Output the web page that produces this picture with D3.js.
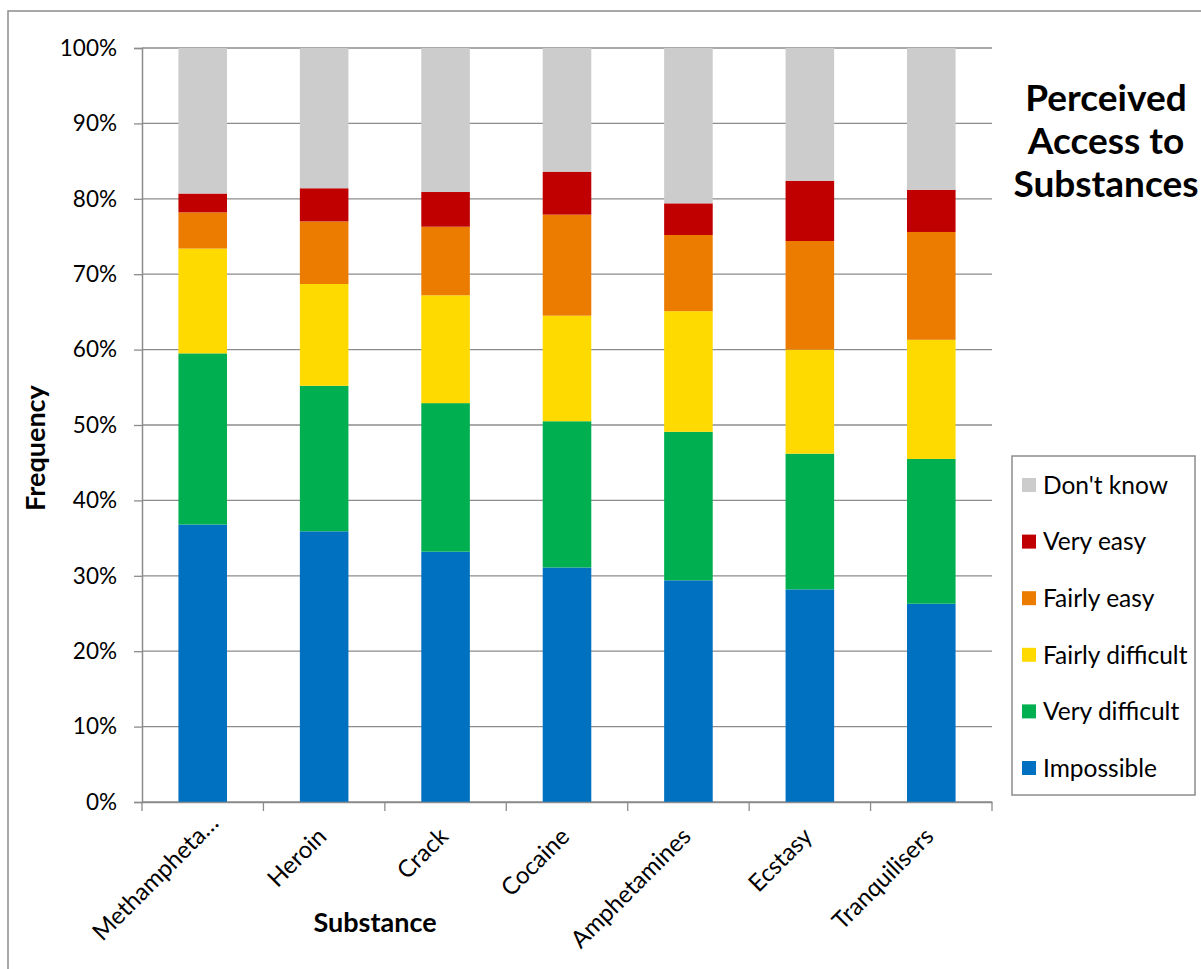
<!DOCTYPE html>
<html>
<head>
<meta charset="utf-8">
<script src="https://cdn.jsdelivr.net/npm/d3@7"></script>
<style>
  html, body { margin: 0; padding: 0; background: #fff; }
  svg { display: block; }
  text { font-family: Lato, "Open Sans", sans-serif; fill: #000; }
</style>
</head>
<body>
<svg id="chart" width="1201" height="969"></svg>
<script>
// ---- Data ----
const categories = ["Methampheta…", "Heroin", "Crack", "Cocaine", "Amphetamines", "Ecstasy", "Tranquilisers"];
const seriesNames = ["Impossible", "Very difficult", "Fairly difficult", "Fairly easy", "Very easy", "Don't know"];
const impossible      = [36.8, 35.9, 33.2, 31.1, 29.4, 28.2, 26.3];
const veryDifficult   = [22.7, 19.3, 19.7, 19.4, 19.7, 18.0, 19.2];
const fairlyDifficult = [13.9, 13.5, 14.3, 14.0, 16.0, 13.8, 15.8];
const fairlyEasy      = [ 4.8,  8.3,  9.1, 13.4, 10.1, 14.4, 14.3];
const veryEasy        = [ 2.5,  4.4,  4.6,  5.7,  4.2,  8.0,  5.6];
const dontKnow        = [19.3, 18.6, 19.1, 16.4, 20.6, 17.6, 18.8];
const yTicks = [0, 10, 20, 30, 40, 50, 60, 70, 80, 90, 100];
const colors = ["#0070C0", "#00B050", "#FFDA00", "#EC7C00", "#C00000", "#CCCCCC"];
const titleLines = ["Perceived", "Access to", "Substances"];

const seriesValues = [impossible, veryDifficult, fairlyDifficult, fairlyEasy, veryEasy, dontKnow];
const rows = categories.map((c, i) => {
  const r = { cat: c };
  seriesNames.forEach((s, k) => r[s] = seriesValues[k][i]);
  return r;
});
const stacked = d3.stack().keys(seriesNames)(rows);

// ---- Layout ----
const svg = d3.select("#chart");
const plot = { left: 142, right: 992, top: 48, bottom: 802 };
const x = d3.scaleBand().domain(categories).range([plot.left, plot.right]).paddingInner(0).paddingOuter(0);
const y = d3.scaleLinear().domain([0, 100]).range([plot.bottom, plot.top]);
const color = d3.scaleOrdinal().domain(seriesNames).range(colors);
const barW = x.bandwidth() * 0.4;
const gridColor = "#8c8c8c";

// outer chart border
svg.append("rect").attr("x", 8).attr("y", 11).attr("width", 1250).attr("height", 1000)
  .attr("fill", "none").attr("stroke", gridColor).attr("stroke-width", 1.5);

// gridlines
svg.append("g").selectAll("line").data(yTicks).join("line")
  .attr("x1", plot.left).attr("x2", plot.right)
  .attr("y1", d => y(d)).attr("y2", d => y(d))
  .attr("stroke", gridColor).attr("stroke-width", 1.3);

// bars
svg.append("g").selectAll("g").data(stacked).join("g")
  .attr("fill", d => color(d.key))
  .selectAll("rect").data(d => d).join("rect")
  .attr("x", d => x(d.data.cat) + (x.bandwidth() - barW) / 2)
  .attr("width", barW)
  .attr("y", d => y(d[1]))
  .attr("height", d => y(d[0]) - y(d[1]));

// y axis
const yAxis = d3.axisLeft(y).tickValues(yTicks).tickFormat(d => d + "%").tickSize(8).tickPadding(17);
const gy = svg.append("g").attr("transform", `translate(${plot.left},0)`).call(yAxis);
gy.select(".domain").attr("stroke", gridColor).attr("stroke-width", 1.5);
gy.selectAll(".tick line").attr("stroke", gridColor).attr("stroke-width", 1.3);
gy.selectAll(".tick text").attr("font-size", 22.5).attr("font-family", "Lato, sans-serif").attr("fill", "#000");

// x axis
const xAxis = d3.axisBottom(x).tickSize(0).tickFormat("");
const gx = svg.append("g").attr("transform", `translate(0,${plot.bottom})`).call(xAxis);
gx.select(".domain").attr("stroke", gridColor).attr("stroke-width", 1.5);
// boundary ticks
const boundaries = categories.map(c => x(c)).concat([plot.right]);
gx.append("g").selectAll("line").data(boundaries).join("line")
  .attr("x1", d => d).attr("x2", d => d).attr("y1", 0).attr("y2", 9)
  .attr("stroke", gridColor).attr("stroke-width", 1.3);
// labels (truncated labels keep the full label box, so their ellipsis sits further out)
gx.append("g").selectAll("text").data(categories).join("text")
  .attr("transform", d => `translate(${x(d) + x.bandwidth() / 2 - 2},${30}) rotate(-45)`)
  .attr("text-anchor", "end").attr("dy", "0.35em")
  .attr("dx", d => d.endsWith("…") ? 19 : 0)
  .attr("font-size", 24)
  .text(d => d);

// axis titles
svg.append("text").attr("x", 375).attr("y", 932).attr("text-anchor", "middle")
  .attr("font-size", 27).attr("font-weight", "bold").text("Substance");
svg.append("text").attr("transform", "translate(45,448) rotate(-90)").attr("text-anchor", "middle")
  .attr("font-size", 27).attr("font-weight", "bold").text("Frequency");

// chart title
svg.append("text").attr("text-anchor", "middle").attr("font-size", 37).attr("font-weight", "bold")
  .selectAll("tspan").data(titleLines).join("tspan")
  .attr("x", 1106).attr("y", (d, i) => 111 + i * 43).text(d => d);

// legend
const lg = svg.append("g");
lg.append("rect").attr("x", 1012).attr("y", 456).attr("width", 183).attr("height", 339)
  .attr("fill", "#fff").attr("stroke", gridColor).attr("stroke-width", 1.5);
const legendOrder = seriesNames.slice().reverse();
const li = lg.selectAll("g.item").data(legendOrder).join("g").attr("class", "item")
  .attr("transform", (d, i) => `translate(1022,${485 + i * 56.6})`);
li.append("rect").attr("x", 0).attr("y", -7).attr("width", 14).attr("height", 14).attr("fill", d => color(d));
li.append("text").attr("x", 21).attr("dy", "0.36em").attr("font-size", 24.5).text(d => d);
</script>
</body>
</html>
